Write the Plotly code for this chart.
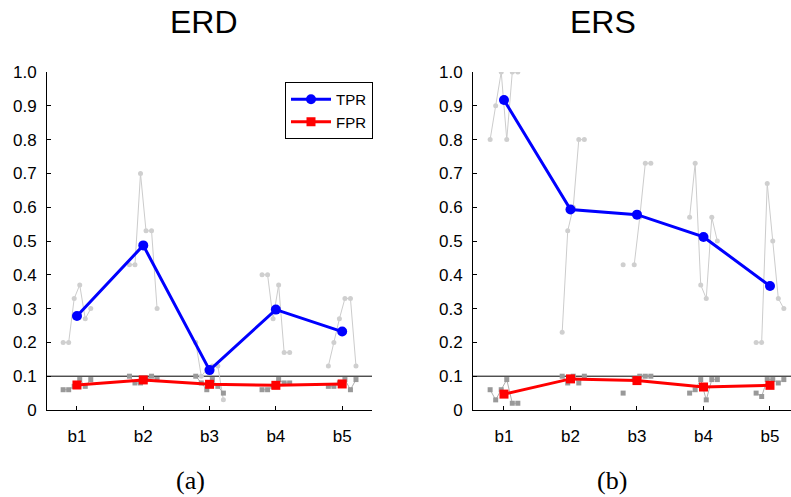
import plotly.graph_objects as go

W, H = 791, 497

bands = ["b1", "b2", "b3", "b4", "b5"]
ytick_vals = [0, 0.1, 0.2, 0.3, 0.4, 0.5, 0.6, 0.7, 0.8, 0.9, 1.0]
ytick_text = ["0", "0.1", "0.2", "0.3", "0.4", "0.5", "0.6", "0.7", "0.8", "0.9", "1.0"]

# ERD (panel a)
erd_tpr_mean = [0.278, 0.487, 0.118, 0.297, 0.232]
erd_fpr_mean = [0.074, 0.089, 0.076, 0.073, 0.077]
erd_tpr_subj = [
    [0.20, 0.20, 0.33, 0.37, 0.27, 0.30],
    [0.43, 0.43, 0.70, 0.53, 0.53, 0.30],
    [0.20, 0.10, 0.12, 0.13, 0.13, 0.03],
    [0.40, 0.40, 0.27, 0.37, 0.17, 0.17],
    [0.13, 0.20, 0.27, 0.33, 0.33, 0.13],
]
erd_fpr_subj = [
    [0.06, 0.06, 0.07, 0.09, 0.07, 0.09],
    [0.10, 0.08, 0.08, 0.09, 0.10, 0.09],
    [0.10, 0.08, 0.06, 0.09, 0.07, 0.05],
    [0.06, 0.06, 0.07, 0.09, 0.08, 0.08],
    [0.07, 0.07, 0.08, 0.09, 0.06, 0.09],
]

# ERS (panel b)
ers_tpr_mean = [0.917, 0.593, 0.578, 0.512, 0.367]
ers_fpr_mean = [0.047, 0.092, 0.087, 0.068, 0.073]
ers_tpr_subj = [
    [0.80, 0.90, 1.00, 0.80, 1.00, 1.00],
    [None, 0.23, 0.53, 0.60, 0.80, 0.80],
    [0.43, None, 0.43, 0.57, 0.73, 0.73],
    [0.57, 0.73, 0.37, 0.33, 0.57, 0.50],
    [0.20, 0.20, 0.67, 0.50, 0.33, 0.30],
]
ers_fpr_subj = [
    [0.06, 0.03, 0.06, 0.09, 0.02, 0.02],
    [None, 0.10, 0.08, 0.10, 0.08, 0.10],
    [0.05, None, 0.09, 0.10, 0.10, 0.10],
    [0.05, 0.06, 0.09, 0.03, 0.09, 0.09],
    [0.05, 0.04, 0.09, 0.09, 0.08, 0.09],
]

threshold = 0.1

SANS = "Liberation Sans, Arial, Helvetica, sans-serif"
SERIF = "Liberation Serif, Times New Roman, serif"

fig = go.Figure()

xpos = list(range(1, len(bands) + 1))


def subj_xy(subj):
    xs, ys = [], []
    for i, vals in enumerate(subj):
        n = len(vals)
        for k, v in enumerate(vals):
            xs.append(xpos[i] + (k - (n - 1) / 2) / 12.0)
            ys.append(v)
        xs.append(None)
        ys.append(None)
    return xs, ys


def add_panel(xa, ya, tpr_subj, fpr_subj, tpr_mean, fpr_mean, legend):
    x, y = subj_xy(tpr_subj)
    fig.add_trace(go.Scatter(x=x, y=y, xaxis=xa, yaxis=ya, mode="lines+markers",
                             line=dict(color="#cccccc", width=1),
                             marker=dict(symbol="circle", size=5, color="#cfcfcf"),
                             showlegend=False, hoverinfo="skip", connectgaps=False))
    x, y = subj_xy(fpr_subj)
    fig.add_trace(go.Scatter(x=x, y=y, xaxis=xa, yaxis=ya, mode="lines+markers",
                             line=dict(color="#b0b0b0", width=1),
                             marker=dict(symbol="square", size=5, color="#999999"),
                             showlegend=False, hoverinfo="skip", connectgaps=False))
    fig.add_trace(go.Scatter(x=xpos, y=tpr_mean, xaxis=xa, yaxis=ya, mode="lines+markers",
                             name="TPR", line=dict(color="#0000ff", width=3),
                             marker=dict(symbol="circle", size=10, color="#0000ff"),
                             showlegend=legend))
    fig.add_trace(go.Scatter(x=xpos, y=fpr_mean, xaxis=xa, yaxis=ya, mode="lines+markers",
                             name="FPR", line=dict(color="#ff0000", width=3),
                             marker=dict(symbol="square", size=9, color="#ff0000"),
                             showlegend=legend))


add_panel("x", "y", erd_tpr_subj, erd_fpr_subj, erd_tpr_mean, erd_fpr_mean, True)
add_panel("x2", "y2", ers_tpr_subj, ers_fpr_subj, ers_tpr_mean, ers_fpr_mean, False)

ydom = [(H - 410) / H, (H - 72) / H]

axis_common = dict(showline=True, linecolor="black", linewidth=1, ticks="inside",
                   ticklen=4, tickcolor="black", showgrid=False, zeroline=False,
                   automargin=False,
                   tickfont=dict(family=SANS, size=17, color="black"))

fig.update_layout(
    width=W, height=H,
    margin=dict(l=0, r=0, t=0, b=0, autoexpand=False),
    paper_bgcolor="white", plot_bgcolor="white",
    xaxis=dict(domain=[47 / W, 372 / W], range=[0.548, 5.45], tickvals=xpos,
               ticktext=bands, anchor="y", ticklabelstandoff=11, **axis_common),
    yaxis=dict(domain=ydom, range=[0, 1.0], tickvals=ytick_vals, ticktext=ytick_text,
               anchor="x", ticklabelstandoff=6, **axis_common),
    xaxis2=dict(domain=[473 / W, 1.0], range=[0.534, 5.316], tickvals=xpos,
                ticktext=bands, anchor="y2", ticklabelstandoff=11, **axis_common),
    yaxis2=dict(domain=ydom, range=[0, 1.0], tickvals=ytick_vals, ticktext=ytick_text,
                anchor="x2", ticklabelstandoff=6, **axis_common),
    legend=dict(x=373 / W, y=(H - 82) / H, xanchor="right", yanchor="top",
                bordercolor="black", borderwidth=1, bgcolor="white",
                font=dict(family=SANS, size=15, color="black"),
                tracegroupgap=0, itemwidth=40),
    showlegend=True,
)

for xa in ["x", "x2"]:
    fig.add_shape(type="line", xref=f"{xa} domain", yref="y" if xa == "x" else "y2",
                  x0=0, x1=1, y0=threshold, y1=threshold,
                  line=dict(color="black", width=1), layer="below")

ann_common = dict(xref="paper", yref="paper", showarrow=False,
                  xanchor="center", yanchor="middle")
fig.add_annotation(text="ERD", x=204 / W, y=(H - 22) / H,
                   font=dict(family=SANS, size=32, color="black"), **ann_common)
fig.add_annotation(text="ERS", x=603 / W, y=(H - 22) / H,
                   font=dict(family=SANS, size=32, color="black"), **ann_common)
fig.add_annotation(text="(a)", x=190 / W, y=(H - 480) / H,
                   font=dict(family=SERIF, size=26, color="black"), **ann_common)
fig.add_annotation(text="(b)", x=612 / W, y=(H - 480) / H,
                   font=dict(family=SERIF, size=26, color="black"), **ann_common)

fig.write_html("out.html")
